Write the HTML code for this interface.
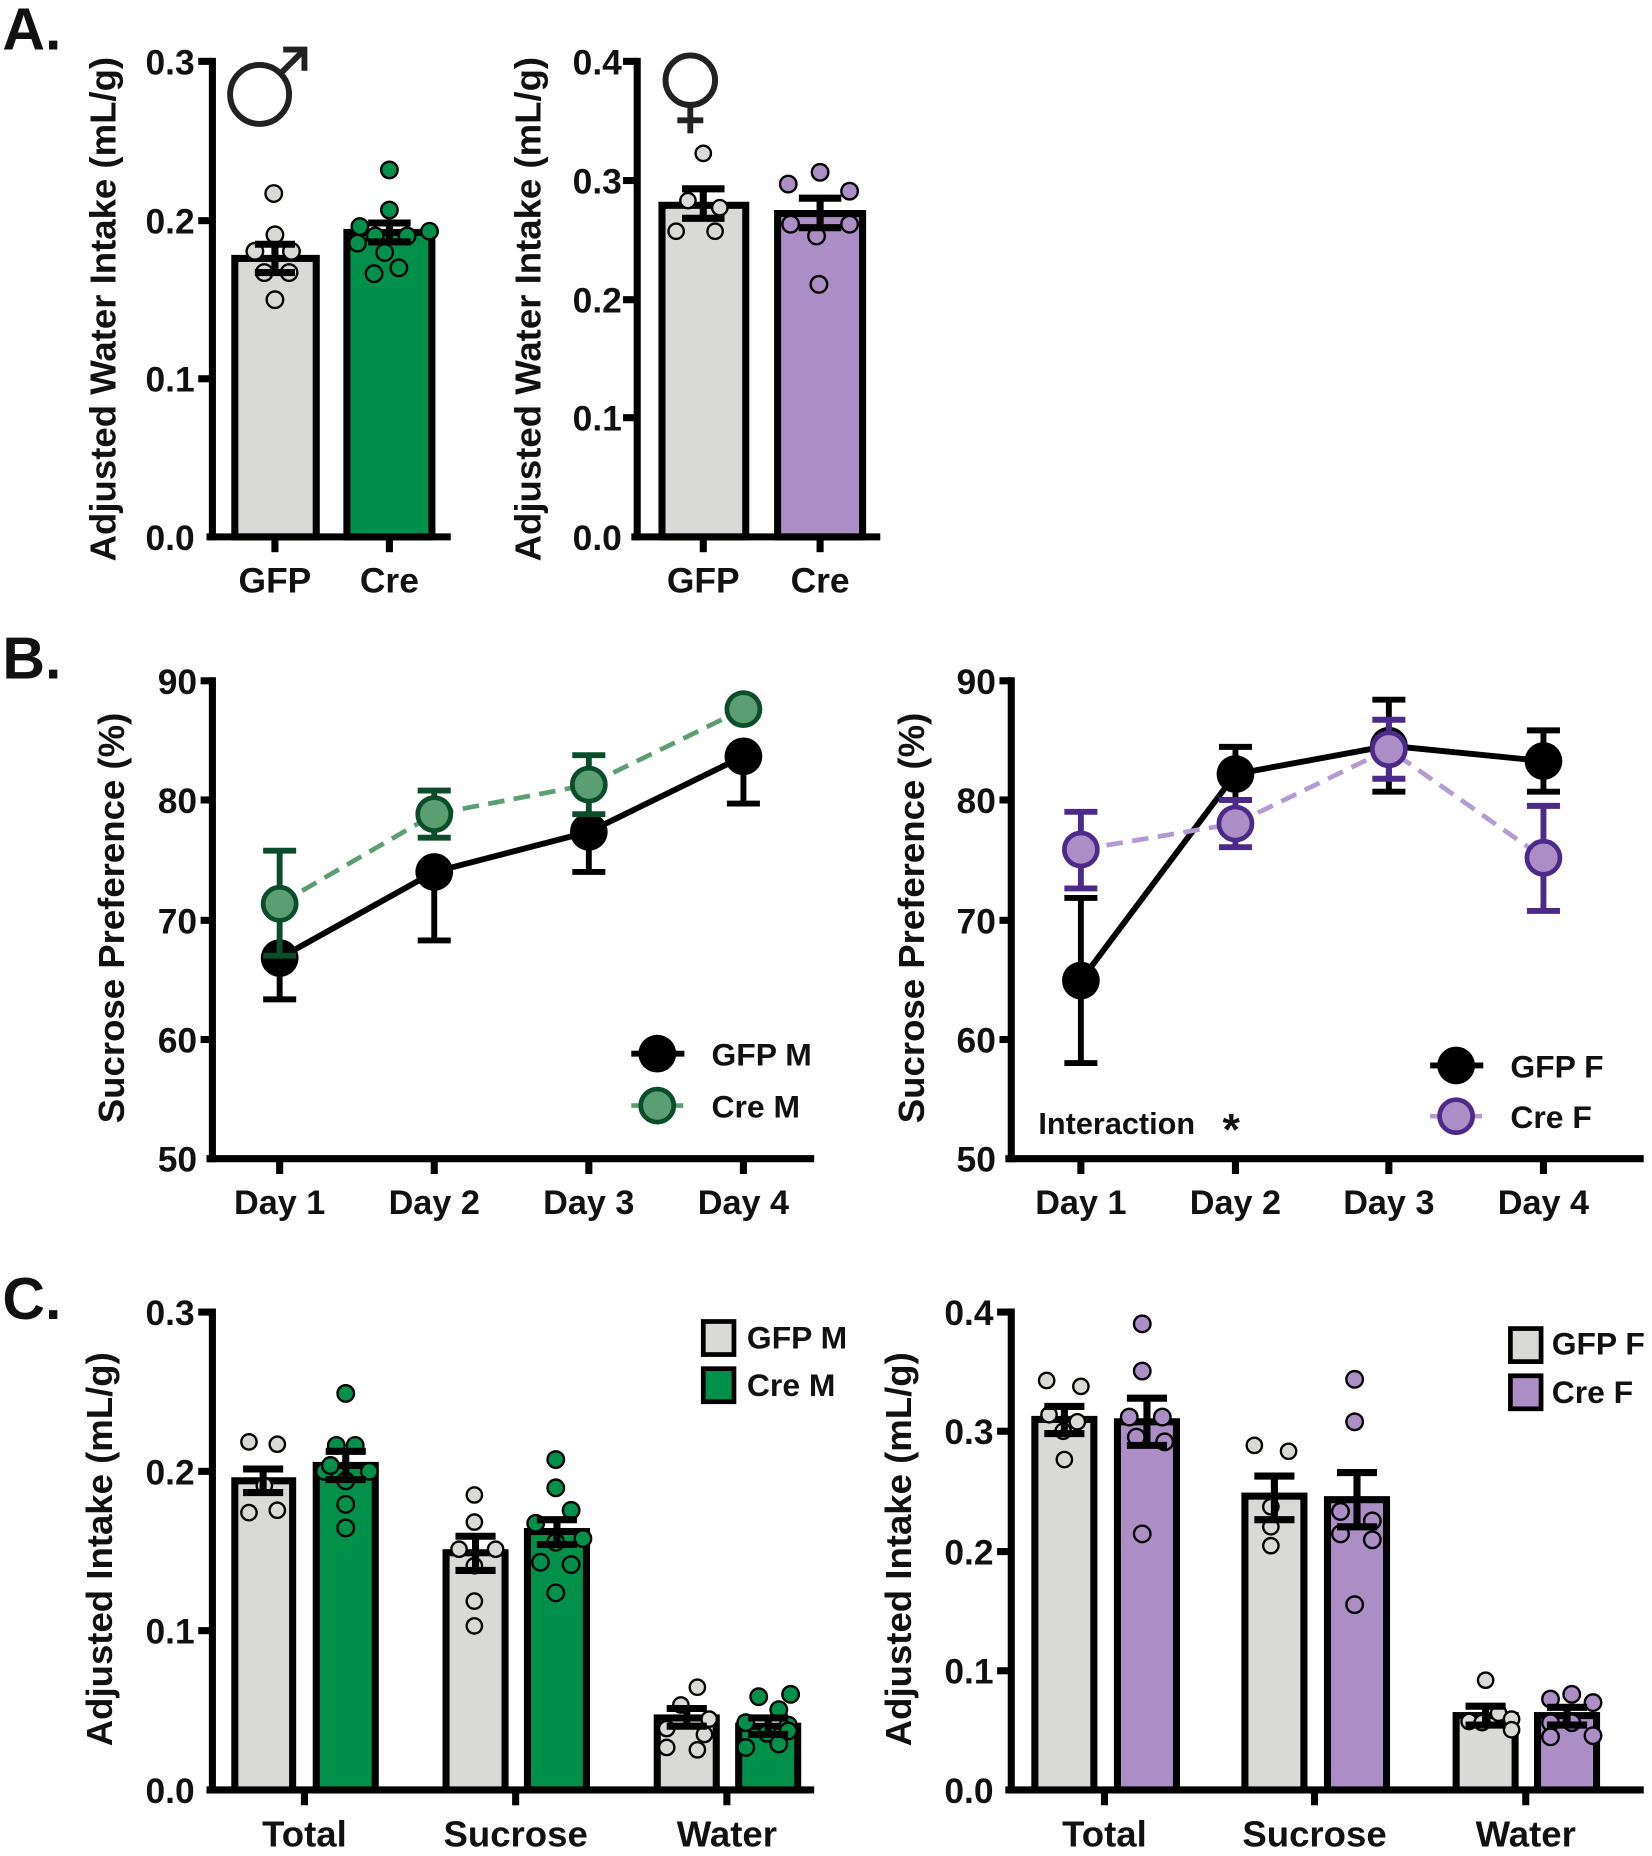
<!DOCTYPE html>
<html><head><meta charset="utf-8"><style>
html,body{margin:0;padding:0;background:#fff;}
svg{display:block;}
text{font-family:"Liberation Sans",Arial,sans-serif;font-weight:bold;fill:#111;}
</style></head><body>
<svg width="1652" height="1856" viewBox="0 0 1400 1573" preserveAspectRatio="none" xmlns="http://www.w3.org/2000/svg">
<text x="2" y="42" font-size="50">A.</text>
<text x="2" y="575" font-size="50">B.</text>
<text x="2" y="1118" font-size="50">C.</text>

<!-- ============ A left ============ -->
<g stroke="#000" stroke-width="6" fill="none">
<line x1="180" y1="49" x2="180" y2="458"/>
<line x1="175" y1="455" x2="382" y2="455"/>
<line x1="168" y1="52" x2="180" y2="52"/><line x1="168" y1="187" x2="180" y2="187"/><line x1="168" y1="321" x2="180" y2="321"/>
<line x1="233" y1="455" x2="233" y2="468"/><line x1="330" y1="455" x2="330" y2="468"/>
</g>
<g font-size="30" text-anchor="end"><text x="165" y="63">0.3</text><text x="165" y="198">0.2</text><text x="165" y="332">0.1</text><text x="165" y="466">0.0</text></g>
<text transform="translate(98,262) rotate(-90)" font-size="31" text-anchor="middle">Adjusted Water Intake (mL/g)</text>
<rect x="199" y="219" width="69" height="236" fill="#d9d9d7" stroke="#000" stroke-width="6"/>
<rect x="294" y="197" width="72" height="258" fill="#00904a" stroke="#000" stroke-width="6"/>
<g stroke="#000" stroke-width="2" fill="#d9d9d7">
<circle cx="232" cy="164" r="7"/><circle cx="233" cy="199" r="7"/><circle cx="216" cy="213" r="7"/><circle cx="247" cy="213" r="7"/><circle cx="224" cy="231" r="7"/><circle cx="245" cy="231" r="7"/><circle cx="233" cy="254" r="7"/>
</g>
<g stroke="#000" stroke-width="2" fill="#00904a">
<circle cx="330" cy="144" r="7"/><circle cx="330" cy="178" r="7"/><circle cx="305" cy="192" r="7"/><circle cx="364" cy="196" r="7"/><circle cx="318" cy="200" r="7"/><circle cx="345" cy="200" r="7"/><circle cx="303" cy="206" r="7"/><circle cx="326" cy="214" r="7"/><circle cx="317" cy="232" r="7"/><circle cx="338" cy="227" r="7"/>
</g>
<g stroke="#000" stroke-width="6"><line x1="233" y1="207" x2="233" y2="231"/><line x1="216" y1="207" x2="250" y2="207"/><line x1="216" y1="231" x2="250" y2="231"/>
<line x1="330" y1="189" x2="330" y2="205"/><line x1="312" y1="189" x2="348" y2="189"/><line x1="312" y1="205" x2="348" y2="205"/></g>
<g font-size="30" text-anchor="middle"><text x="233" y="502">GFP</text><text x="330" y="502">Cre</text></g>
<g stroke="#222" stroke-width="5" fill="none"><circle cx="220" cy="80" r="25"/><line x1="238" y1="62" x2="258" y2="42"/><polyline points="240,42 258,42 258,60"/></g>

<!-- ============ A right ============ -->
<g stroke="#000" stroke-width="6" fill="none">
<line x1="540" y1="49" x2="540" y2="458"/>
<line x1="535" y1="455" x2="746" y2="455"/>
<line x1="528" y1="52" x2="540" y2="52"/><line x1="528" y1="153" x2="540" y2="153"/><line x1="528" y1="254" x2="540" y2="254"/><line x1="528" y1="354" x2="540" y2="354"/>
<line x1="596" y1="455" x2="596" y2="468"/><line x1="695" y1="455" x2="695" y2="468"/>
</g>
<g font-size="30" text-anchor="end"><text x="527" y="63">0.4</text><text x="527" y="164">0.3</text><text x="527" y="265">0.2</text><text x="527" y="365">0.1</text><text x="527" y="466">0.0</text></g>
<text transform="translate(458,262) rotate(-90)" font-size="31" text-anchor="middle">Adjusted Water Intake (mL/g)</text>
<rect x="561" y="174" width="71" height="281" fill="#d9d9d7" stroke="#000" stroke-width="6"/>
<rect x="659" y="181" width="72" height="274" fill="#ab8ec6" stroke="#000" stroke-width="6"/>
<g stroke="#000" stroke-width="2" fill="#d9d9d7"><circle cx="596" cy="130" r="6.5"/><circle cx="583" cy="170" r="6.5"/><circle cx="610" cy="176" r="6.5"/><circle cx="573" cy="196" r="6.5"/><circle cx="606" cy="196" r="6.5"/></g>
<g stroke="#000" stroke-width="2" fill="#ab8ec6"><circle cx="668" cy="156" r="7"/><circle cx="695" cy="146" r="7"/><circle cx="720" cy="162" r="7"/><circle cx="670" cy="190" r="7"/><circle cx="720" cy="190" r="7"/><circle cx="692" cy="200" r="7"/><circle cx="694" cy="241" r="7"/></g>
<g stroke="#000" stroke-width="6"><line x1="596" y1="160" x2="596" y2="185"/><line x1="578" y1="160" x2="614" y2="160"/><line x1="578" y1="185" x2="614" y2="185"/>
<line x1="695" y1="168" x2="695" y2="193"/><line x1="677" y1="168" x2="713" y2="168"/><line x1="677" y1="193" x2="713" y2="193"/></g>
<g font-size="30" text-anchor="middle"><text x="596" y="502">GFP</text><text x="695" y="502">Cre</text></g>
<g stroke="#222" stroke-width="5" fill="none"><circle cx="585" cy="68" r="21"/><line x1="585" y1="89" x2="585" y2="113"/><line x1="574" y1="102" x2="596" y2="102"/></g>

<!-- ============ B left ============ -->
<g stroke="#000" stroke-width="6" fill="none">
<line x1="180" y1="574" x2="180" y2="985"/>
<line x1="175" y1="982" x2="690" y2="982"/>
<line x1="170" y1="577" x2="180" y2="577"/><line x1="170" y1="678" x2="180" y2="678"/><line x1="170" y1="780" x2="180" y2="780"/><line x1="170" y1="881" x2="180" y2="881"/>
<line x1="237" y1="982" x2="237" y2="995"/><line x1="368" y1="982" x2="368" y2="995"/><line x1="499" y1="982" x2="499" y2="995"/><line x1="630" y1="982" x2="630" y2="995"/>
</g>
<g font-size="30" text-anchor="end"><text x="167" y="588">90</text><text x="167" y="689">80</text><text x="167" y="791">70</text><text x="167" y="892">60</text><text x="167" y="993">50</text></g>
<text transform="translate(105,778) rotate(-90)" font-size="31" text-anchor="middle">Sucrose Preference (%)</text>
<g font-size="29" text-anchor="middle"><text x="237" y="1029">Day 1</text><text x="368" y="1029">Day 2</text><text x="499" y="1029">Day 3</text><text x="630" y="1029">Day 4</text></g>
<polyline points="237,812 368,739 499,705 630,641" fill="none" stroke="#000" stroke-width="5"/>
<g stroke="#000" stroke-width="5">
<line x1="237" y1="812" x2="237" y2="847"/><line x1="223" y1="847" x2="251" y2="847"/>
<line x1="368" y1="739" x2="368" y2="797"/><line x1="354" y1="797" x2="382" y2="797"/>
<line x1="499" y1="705" x2="499" y2="739"/><line x1="485" y1="739" x2="513" y2="739"/>
<line x1="630" y1="641" x2="630" y2="681"/><line x1="616" y1="681" x2="644" y2="681"/>
</g>
<g fill="#000"><circle cx="237" cy="812" r="16"/><circle cx="368" cy="739" r="16"/><circle cx="499" cy="705" r="16"/><circle cx="630" cy="641" r="16"/></g>
<polyline points="237,766 368,690 499,665 630,601" fill="none" stroke="#5a9e71" stroke-width="4" stroke-dasharray="14,8"/>
<g stroke="#0b4d2a" stroke-width="5">
<line x1="237" y1="721" x2="237" y2="810"/><line x1="223" y1="721" x2="251" y2="721"/><line x1="223" y1="810" x2="251" y2="810"/>
<line x1="368" y1="670" x2="368" y2="710"/><line x1="354" y1="670" x2="382" y2="670"/><line x1="354" y1="710" x2="382" y2="710"/>
<line x1="499" y1="640" x2="499" y2="690"/><line x1="485" y1="640" x2="513" y2="640"/><line x1="485" y1="690" x2="513" y2="690"/>
</g>
<g fill="#5a9e71" stroke="#0b4d2a" stroke-width="4"><circle cx="237" cy="766" r="14"/><circle cx="368" cy="690" r="14"/><circle cx="499" cy="665" r="14"/><circle cx="630" cy="601" r="14"/></g>
<line x1="535" y1="893" x2="580" y2="893" stroke="#000" stroke-width="5"/><circle cx="557" cy="893" r="16" fill="#000"/>
<line x1="535" y1="937" x2="580" y2="937" stroke="#5a9e71" stroke-width="4" stroke-dasharray="8,4"/><circle cx="557" cy="937" r="14" fill="#5a9e71" stroke="#0b4d2a" stroke-width="4"/>
<g font-size="27"><text x="603" y="903">GFP M</text><text x="603" y="947">Cre M</text></g>

<!-- ============ B right ============ -->
<g stroke="#000" stroke-width="6" fill="none">
<line x1="857" y1="574" x2="857" y2="985"/>
<line x1="852" y1="982" x2="1393" y2="982"/>
<line x1="847" y1="577" x2="857" y2="577"/><line x1="847" y1="678" x2="857" y2="678"/><line x1="847" y1="780" x2="857" y2="780"/><line x1="847" y1="881" x2="857" y2="881"/>
<line x1="916" y1="982" x2="916" y2="995"/><line x1="1047" y1="982" x2="1047" y2="995"/><line x1="1177" y1="982" x2="1177" y2="995"/><line x1="1308" y1="982" x2="1308" y2="995"/>
</g>
<g font-size="30" text-anchor="end"><text x="844" y="588">90</text><text x="844" y="689">80</text><text x="844" y="791">70</text><text x="844" y="892">60</text><text x="844" y="993">50</text></g>
<text transform="translate(783,778) rotate(-90)" font-size="31" text-anchor="middle">Sucrose Preference (%)</text>
<g font-size="29" text-anchor="middle"><text x="916" y="1029">Day 1</text><text x="1047" y="1029">Day 2</text><text x="1177" y="1029">Day 3</text><text x="1308" y="1029">Day 4</text></g>
<polyline points="916,831 1047,656 1177,632 1308,645" fill="none" stroke="#000" stroke-width="5"/>
<g stroke="#000" stroke-width="5">
<line x1="916" y1="761" x2="916" y2="901"/><line x1="902" y1="761" x2="930" y2="761"/><line x1="902" y1="901" x2="930" y2="901"/>
<line x1="1047" y1="633" x2="1047" y2="678"/><line x1="1033" y1="633" x2="1061" y2="633"/><line x1="1033" y1="678" x2="1061" y2="678"/>
<line x1="1177" y1="593" x2="1177" y2="671"/><line x1="1163" y1="593" x2="1191" y2="593"/><line x1="1163" y1="671" x2="1191" y2="671"/>
<line x1="1308" y1="619" x2="1308" y2="671"/><line x1="1294" y1="619" x2="1322" y2="619"/><line x1="1294" y1="671" x2="1322" y2="671"/>
</g>
<g fill="#000"><circle cx="916" cy="831" r="16"/><circle cx="1047" cy="656" r="16"/><circle cx="1177" cy="632" r="16"/><circle cx="1308" cy="645" r="16"/></g>
<polyline points="916,720 1047,698 1177,635 1308,727" fill="none" stroke="#b49ad3" stroke-width="4" stroke-dasharray="14,8"/>
<g stroke="#4b2a8a" stroke-width="5">
<line x1="916" y1="688" x2="916" y2="753"/><line x1="902" y1="688" x2="930" y2="688"/><line x1="902" y1="753" x2="930" y2="753"/>
<line x1="1047" y1="678" x2="1047" y2="718"/><line x1="1033" y1="678" x2="1061" y2="678"/><line x1="1033" y1="718" x2="1061" y2="718"/>
<line x1="1177" y1="610" x2="1177" y2="660"/><line x1="1163" y1="610" x2="1191" y2="610"/><line x1="1163" y1="660" x2="1191" y2="660"/>
<line x1="1308" y1="683" x2="1308" y2="772"/><line x1="1294" y1="683" x2="1322" y2="683"/><line x1="1294" y1="772" x2="1322" y2="772"/>
</g>
<g fill="#ab8ec6" stroke="#4b2a8a" stroke-width="4"><circle cx="916" cy="720" r="14"/><circle cx="1047" cy="698" r="14"/><circle cx="1177" cy="635" r="14"/><circle cx="1308" cy="727" r="14"/></g>
<line x1="1212" y1="903" x2="1257" y2="903" stroke="#000" stroke-width="5"/><circle cx="1234" cy="903" r="16" fill="#000"/>
<line x1="1212" y1="946" x2="1257" y2="946" stroke="#b49ad3" stroke-width="4" stroke-dasharray="8,4"/><circle cx="1234" cy="946" r="14" fill="#ab8ec6" stroke="#4b2a8a" stroke-width="4"/>
<g font-size="27"><text x="1280" y="913">GFP F</text><text x="1280" y="956">Cre F</text></g>
<text x="880" y="961" font-size="26" fill="#333">Interaction</text>
<text x="1036" y="970" font-size="38">*</text>

<!-- ============ C left ============ -->
<g stroke="#000" stroke-width="6" fill="none">
<line x1="180" y1="1109" x2="180" y2="1520"/>
<line x1="175" y1="1517" x2="690" y2="1517"/>
<line x1="168" y1="1112" x2="180" y2="1112"/><line x1="168" y1="1247" x2="180" y2="1247"/><line x1="168" y1="1382" x2="180" y2="1382"/>
<line x1="258" y1="1517" x2="258" y2="1530"/><line x1="437" y1="1517" x2="437" y2="1530"/><line x1="616" y1="1517" x2="616" y2="1530"/>
</g>
<g font-size="30" text-anchor="end"><text x="165" y="1123">0.3</text><text x="165" y="1258">0.2</text><text x="165" y="1393">0.1</text><text x="165" y="1528">0.0</text></g>
<text transform="translate(95,1313) rotate(-90)" font-size="31" text-anchor="middle">Adjusted Intake (mL/g)</text>
<g stroke="#000" stroke-width="6">
<rect x="199" y="1255" width="49" height="262" fill="#d9d9d7"/><rect x="268" y="1242" width="50" height="275" fill="#00904a"/>
<rect x="378" y="1316" width="50" height="201" fill="#d9d9d7"/><rect x="447" y="1298" width="50" height="219" fill="#00904a"/>
<rect x="557" y="1456" width="50" height="61" fill="#d9d9d7"/><rect x="626" y="1463" width="50" height="54" fill="#00904a"/>
</g>
<g stroke="#000" stroke-width="2" fill="#d9d9d7">
<circle cx="211" cy="1222" r="6.5"/><circle cx="235" cy="1224" r="6.5"/><circle cx="224" cy="1259" r="6.5"/><circle cx="211" cy="1282" r="6.5"/><circle cx="235" cy="1280" r="6.5"/>
<circle cx="402" cy="1267" r="6.5"/><circle cx="402" cy="1290" r="6.5"/><circle cx="389" cy="1313" r="6.5"/><circle cx="420" cy="1313" r="6.5"/><circle cx="402" cy="1327" r="6.5"/><circle cx="402" cy="1357" r="6.5"/><circle cx="402" cy="1378" r="6.5"/>
<circle cx="591" cy="1430" r="6.5"/><circle cx="577" cy="1445" r="6.5"/><circle cx="565" cy="1465" r="6.5"/><circle cx="597" cy="1470" r="6.5"/><circle cx="565" cy="1481" r="6.5"/><circle cx="591" cy="1483" r="6.5"/><circle cx="601" cy="1457" r="6.5"/>
</g>
<g stroke="#000" stroke-width="2" fill="#00904a">
<circle cx="293" cy="1181" r="7"/><circle cx="285" cy="1225" r="7"/><circle cx="301" cy="1225" r="7"/><circle cx="275" cy="1247" r="7"/><circle cx="313" cy="1247" r="7"/><circle cx="293" cy="1255" r="7"/><circle cx="293" cy="1275" r="7"/><circle cx="293" cy="1295" r="7"/><circle cx="280" cy="1242" r="7"/>
<circle cx="471" cy="1237" r="7"/><circle cx="471" cy="1261" r="7"/><circle cx="484" cy="1280" r="7"/><circle cx="454" cy="1291" r="7"/><circle cx="494" cy="1304" r="7"/><circle cx="471" cy="1307" r="7"/><circle cx="458" cy="1324" r="7"/><circle cx="484" cy="1326" r="7"/><circle cx="471" cy="1350" r="7"/>
<circle cx="643" cy="1438" r="7"/><circle cx="670" cy="1436" r="7"/><circle cx="660" cy="1449" r="7"/><circle cx="632" cy="1460" r="7"/><circle cx="668" cy="1462" r="7"/><circle cx="650" cy="1469" r="7"/><circle cx="632" cy="1481" r="7"/><circle cx="660" cy="1478" r="7"/><circle cx="668" cy="1467" r="7"/>
</g>
<g stroke="#000" stroke-width="6">
<line x1="223" y1="1245" x2="223" y2="1265"/><line x1="206" y1="1245" x2="240" y2="1245"/><line x1="206" y1="1265" x2="240" y2="1265"/>
<line x1="293" y1="1230" x2="293" y2="1254"/><line x1="276" y1="1230" x2="310" y2="1230"/><line x1="276" y1="1254" x2="310" y2="1254"/>
<line x1="403" y1="1302" x2="403" y2="1331"/><line x1="386" y1="1302" x2="420" y2="1302"/><line x1="386" y1="1331" x2="420" y2="1331"/>
<line x1="472" y1="1288" x2="472" y2="1309"/><line x1="455" y1="1288" x2="489" y2="1288"/><line x1="455" y1="1309" x2="489" y2="1309"/>
<line x1="582" y1="1448" x2="582" y2="1463"/><line x1="565" y1="1448" x2="599" y2="1448"/><line x1="565" y1="1463" x2="599" y2="1463"/>
<line x1="651" y1="1456" x2="651" y2="1470"/><line x1="634" y1="1456" x2="668" y2="1456"/><line x1="634" y1="1470" x2="668" y2="1470"/>
</g>
<g font-size="31" text-anchor="middle"><text x="258" y="1565">Total</text><text x="437" y="1565">Sucrose</text><text x="616" y="1565">Water</text></g>
<rect x="596" y="1120" width="26" height="28" fill="#d9d9d7" stroke="#000" stroke-width="4"/>
<rect x="596" y="1160" width="26" height="28" fill="#00904a" stroke="#000" stroke-width="4"/>
<g font-size="27"><text x="633" y="1143">GFP M</text><text x="633" y="1183">Cre M</text></g>

<!-- ============ C right ============ -->
<g stroke="#000" stroke-width="6" fill="none">
<line x1="857" y1="1109" x2="857" y2="1520"/>
<line x1="852" y1="1517" x2="1393" y2="1517"/>
<line x1="845" y1="1112" x2="857" y2="1112"/><line x1="845" y1="1213" x2="857" y2="1213"/><line x1="845" y1="1315" x2="857" y2="1315"/><line x1="845" y1="1416" x2="857" y2="1416"/>
<line x1="936" y1="1517" x2="936" y2="1530"/><line x1="1114" y1="1517" x2="1114" y2="1530"/><line x1="1293" y1="1517" x2="1293" y2="1530"/>
</g>
<g font-size="30" text-anchor="end"><text x="842" y="1123">0.4</text><text x="842" y="1224">0.3</text><text x="842" y="1326">0.2</text><text x="842" y="1427">0.1</text><text x="842" y="1528">0.0</text></g>
<text transform="translate(772,1313) rotate(-90)" font-size="31" text-anchor="middle">Adjusted Intake (mL/g)</text>
<g stroke="#000" stroke-width="6">
<rect x="877" y="1203" width="50" height="314" fill="#d9d9d7"/><rect x="947" y="1205" width="50" height="312" fill="#ab8ec6"/>
<rect x="1055" y="1268" width="50" height="249" fill="#d9d9d7"/><rect x="1125" y="1271" width="50" height="246" fill="#ab8ec6"/>
<rect x="1234" y="1454" width="50" height="63" fill="#d9d9d7"/><rect x="1303" y="1454" width="50" height="63" fill="#ab8ec6"/>
</g>
<g stroke="#000" stroke-width="2" fill="#d9d9d7">
<circle cx="887" cy="1170" r="6.5"/><circle cx="916" cy="1175" r="6.5"/><circle cx="889" cy="1199" r="6.5"/><circle cx="913" cy="1205" r="6.5"/><circle cx="901" cy="1213" r="6.5"/><circle cx="902" cy="1237" r="6.5"/>
<circle cx="1063" cy="1225" r="6.5"/><circle cx="1092" cy="1230" r="6.5"/><circle cx="1077" cy="1277" r="6.5"/><circle cx="1077" cy="1294" r="6.5"/><circle cx="1077" cy="1310" r="6.5"/>
<circle cx="1259" cy="1424" r="6.5"/><circle cx="1245" cy="1459" r="6.5"/><circle cx="1270" cy="1452" r="6.5"/><circle cx="1281" cy="1457" r="6.5"/><circle cx="1256" cy="1460" r="6.5"/><circle cx="1281" cy="1466" r="6.5"/>
</g>
<g stroke="#000" stroke-width="2" fill="#ab8ec6">
<circle cx="968" cy="1122" r="7"/><circle cx="968" cy="1162" r="7"/><circle cx="957" cy="1201" r="7"/><circle cx="985" cy="1201" r="7"/><circle cx="963" cy="1218" r="7"/><circle cx="987" cy="1222" r="7"/><circle cx="968" cy="1300" r="7"/>
<circle cx="1148" cy="1169" r="7"/><circle cx="1148" cy="1205" r="7"/><circle cx="1136" cy="1281" r="7"/><circle cx="1163" cy="1289" r="7"/><circle cx="1136" cy="1300" r="7"/><circle cx="1163" cy="1305" r="7"/><circle cx="1148" cy="1360" r="7"/>
<circle cx="1314" cy="1440" r="7"/><circle cx="1332" cy="1436" r="7"/><circle cx="1350" cy="1443" r="7"/><circle cx="1314" cy="1460" r="7"/><circle cx="1332" cy="1460" r="7"/><circle cx="1314" cy="1472" r="7"/><circle cx="1350" cy="1471" r="7"/>
</g>
<g stroke="#000" stroke-width="6">
<line x1="902" y1="1192" x2="902" y2="1215"/><line x1="885" y1="1192" x2="919" y2="1192"/><line x1="885" y1="1215" x2="919" y2="1215"/>
<line x1="972" y1="1185" x2="972" y2="1225"/><line x1="955" y1="1185" x2="989" y2="1185"/><line x1="955" y1="1225" x2="989" y2="1225"/>
<line x1="1080" y1="1251" x2="1080" y2="1288"/><line x1="1063" y1="1251" x2="1097" y2="1251"/><line x1="1063" y1="1288" x2="1097" y2="1288"/>
<line x1="1150" y1="1248" x2="1150" y2="1294"/><line x1="1133" y1="1248" x2="1167" y2="1248"/><line x1="1133" y1="1294" x2="1167" y2="1294"/>
<line x1="1259" y1="1446" x2="1259" y2="1462"/><line x1="1242" y1="1446" x2="1276" y2="1446"/><line x1="1242" y1="1462" x2="1276" y2="1462"/>
<line x1="1328" y1="1447" x2="1328" y2="1462"/><line x1="1311" y1="1447" x2="1345" y2="1447"/><line x1="1311" y1="1462" x2="1345" y2="1462"/>
</g>
<g font-size="31" text-anchor="middle"><text x="936" y="1565">Total</text><text x="1114" y="1565">Sucrose</text><text x="1293" y="1565">Water</text></g>
<rect x="1280" y="1126" width="26" height="28" fill="#d9d9d7" stroke="#000" stroke-width="4"/>
<rect x="1280" y="1166" width="26" height="28" fill="#ab8ec6" stroke="#000" stroke-width="4"/>
<g font-size="27"><text x="1315" y="1148">GFP F</text><text x="1315" y="1189">Cre F</text></g>
</svg>
</body></html>
